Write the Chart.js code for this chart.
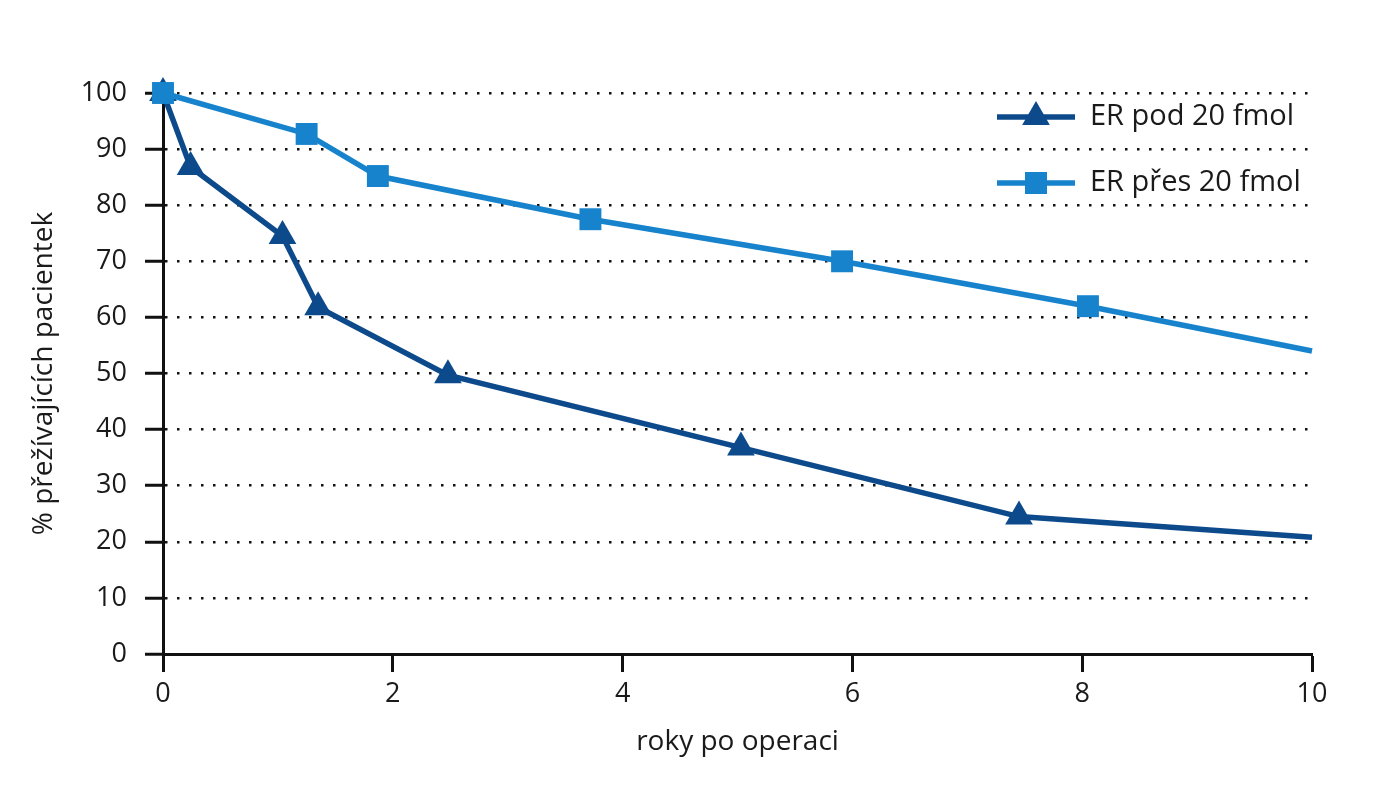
<!DOCTYPE html>
<html>
<head>
<meta charset="utf-8">
<script src="https://cdn.jsdelivr.net/npm/chart.js@4/dist/chart.umd.min.js"></script>
<style>
  html, body { margin: 0; padding: 0; background: #ffffff; }
  #wrap { width: 1380px; height: 800px; position: relative; }
</style>
</head>
<body>
<div id="wrap"><canvas id="c"></canvas></div>
<script>
// ---- data ----
const seriesNames = ['ER pod 20 fmol', 'ER přes 20 fmol'];
const yearsLow  = [0, 0.24, 1.04, 1.35, 2.48, 5.03, 7.45, 10];
const survLow   = [100, 86.8, 74.5, 61.8, 49.7, 36.8, 24.5, 20.8];
const yearsHigh = [0, 1.25, 1.87, 3.72, 5.91, 8.05, 10];
const survHigh  = [100, 92.7, 85.2, 77.5, 70.0, 62.0, 54.0];
const xTicks = [0, 2, 4, 6, 8, 10];
const yTicks = [0, 10, 20, 30, 40, 50, 60, 70, 80, 90, 100];
const xTitle = 'roky po operaci';
const yTitle = '% přežívajících pacientek';

const darkBlue = '#0d4a8b';
const lightBlue = '#1783cc';
const FONT = "'Open Sans', 'Noto Sans', sans-serif";

function toPoints(xs, ys) { return xs.map((x, i) => ({ x: x, y: ys[i] })); }
function lastless(r) {
  return ctx => (ctx.dataIndex === ctx.dataset.data.length - 1 ? 0 : r);
}

const legendPlugin = {
  id: 'inlineLegend',
  afterDraw(chart) {
    const ctx = chart.ctx;
    const ca = chart.chartArea;
    const items = [
      { text: seriesNames[0], color: darkBlue, style: 'triangle' },
      { text: seriesNames[1], color: lightBlue, style: 'rect' }
    ];
    const x0 = ca.right - 315, x1 = ca.right - 237, xm = (x0 + x1) / 2;
    ctx.save();
    items.forEach((it, i) => {
      const y = ca.top + 24 + i * 66;
      ctx.strokeStyle = it.color;
      ctx.fillStyle = it.color;
      ctx.lineWidth = 5.5;
      ctx.beginPath(); ctx.moveTo(x0, y); ctx.lineTo(x1, y); ctx.stroke();
      ctx.beginPath();
      if (it.style === 'triangle') {
        const r = 16;
        ctx.moveTo(xm, y - r);
        ctx.lineTo(xm + r * 0.866, y + r / 2);
        ctx.lineTo(xm - r * 0.866, y + r / 2);
        ctx.closePath();
      } else {
        ctx.rect(xm - 11, y - 11, 22, 22);
      }
      ctx.fill();
      ctx.fillStyle = '#1a1a1a';
      ctx.font = '29px ' + FONT;
      ctx.textBaseline = 'middle';
      ctx.textAlign = 'left';
      ctx.fillText(it.text, x1 + 15, y);
    });
    ctx.restore();
  }
};

new Chart(document.getElementById('c'), {
  type: 'line',
  data: {
    datasets: [
      {
        label: seriesNames[0],
        data: toPoints(yearsLow, survLow),
        borderColor: darkBlue,
        backgroundColor: darkBlue,
        borderWidth: 5.5,
        pointStyle: 'triangle',
        pointRadius: lastless(16),
        pointBorderWidth: 0,
        tension: 0,
        clip: false,
        order: 1
      },
      {
        label: seriesNames[1],
        data: toPoints(yearsHigh, survHigh),
        borderColor: lightBlue,
        backgroundColor: lightBlue,
        borderWidth: 5.5,
        pointStyle: 'rect',
        pointRadius: lastless(15.5),
        pointBorderWidth: 0,
        tension: 0,
        clip: false,
        order: 0
      }
    ]
  },
  options: {
    responsive: true,
    maintainAspectRatio: false,
    animation: false,
    events: [],
    layout: { padding: { top: 93, right: 68, left: 0, bottom: 0 } },
    plugins: { legend: { display: false }, tooltip: { enabled: false } },
    scales: {
      x: {
        type: 'linear',
        min: 0, max: 10,
        afterBuildTicks: s => { s.ticks = xTicks.map(v => ({ value: v })); },
        afterFit: s => { s.height = 146; },
        border: { display: true, color: '#111111', width: 3 },
        grid: { drawOnChartArea: false, drawTicks: true, tickLength: 18, tickColor: '#111111', tickWidth: 3 },
        ticks: { color: '#1a1a1a', font: { family: FONT, size: 27 }, padding: 6, maxRotation: 0 },
        title: { display: true, text: xTitle, color: '#1a1a1a', font: { family: FONT, size: 28 }, padding: { top: 0, bottom: 41 } }
      },
      y: {
        type: 'linear',
        min: 0, max: 100,
        afterBuildTicks: s => { s.ticks = yTicks.map(v => ({ value: v })); },
        afterFit: s => { s.width = 163; },
        border: { display: true, color: '#111111', width: 3, dash: [2.5, 9.5] },
        grid: {
          drawOnChartArea: true, drawTicks: true, tickLength: 18,
          color: '#111111', lineWidth: 2.5,
          tickColor: '#111111', tickWidth: 3, tickBorderDash: [100, 0]
        },
        ticks: { color: '#1a1a1a', font: { family: FONT, size: 27 }, padding: 18 },
        title: { display: true, text: yTitle, color: '#1a1a1a', font: { family: FONT, size: 28 }, padding: { top: 27, bottom: 0 } }
      }
    }
  },
  plugins: [legendPlugin]
});
</script>
</body>
</html>
